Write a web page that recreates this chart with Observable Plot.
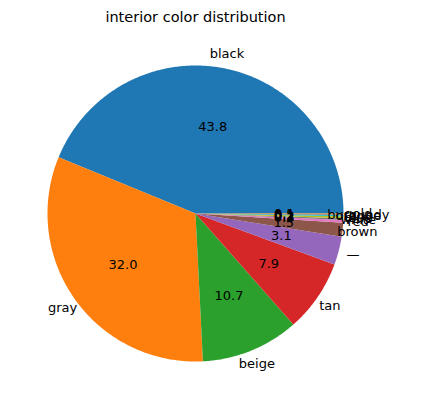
<!DOCTYPE html>
<html><head>
<script src="https://cdn.jsdelivr.net/npm/d3@7"></script>
<script src="https://cdn.jsdelivr.net/npm/@observablehq/plot@0.6"></script>
<style>body{margin:0;background:#fff}</style>
</head><body><div id="chart"></div>
<script>
const labels = ["black","gray","beige","tan","—","brown","red","white","blue","orange","burgundy","gold"];
const values = [43.8,32.0,10.7,7.9,3.1,1.5,0.3,0.2,0.2,0.1,0.1,0.1];
const colors = ["#1f77b4","#ff7f0e","#2ca02c","#d62728","#9467bd","#8c564b","#e377c2","#7f7f7f","#bcbd22","#17becf","#1f77b4","#ff7f0e"];

const total = d3.sum(values);
const slices = [];
let acc = 0;
values.forEach((v, i) => {
  const a0 = acc / total * 2 * Math.PI, a1 = (acc + v) / total * 2 * Math.PI;
  acc += v;
  slices.push({label: labels[i], value: v, color: colors[i], a0, a1, mid: (a0 + a1) / 2});
});
const pts = [];
slices.forEach((s, i) => {
  pts.push({i, x: 0, y: 0, c: s.color});
  const n = Math.max(2, Math.ceil((s.a1 - s.a0) / 0.01));
  for (let k = 0; k <= n; k++) {
    const a = s.a0 + (s.a1 - s.a0) * k / n;
    pts.push({i, x: Math.cos(a), y: Math.sin(a), c: s.color});
  }
  pts.push({i, x: 0, y: 0, c: s.color});
});

const R = 148, cx = 195, cy = 213, W = 434, H = 409;
const chart = Plot.plot({
  width: W, height: H, margin: 0,
  x: {domain: [-cx / R, (W - cx) / R], axis: null},
  y: {domain: [-(H - cy) / R, cy / R], axis: null},
  style: {fontFamily: "DejaVu Sans", fontSize: "13px", color: "#000"},
  marks: [
    Plot.line(pts, {x: "x", y: "y", z: "i", fill: "c", stroke: null, curve: "linear"}),
    Plot.text(slices, {x: d => 1.1 * Math.cos(d.mid), y: d => 1.1 * Math.sin(d.mid), text: "label",
      textAnchor: d => Math.cos(d.mid) >= 0 ? "start" : "end", fontSize: 13, fill: "#000"}),
    Plot.text(slices, {x: d => 0.6 * Math.cos(d.mid), y: d => 0.6 * Math.sin(d.mid), text: d => d.value.toFixed(1), fontSize: 13, fill: "#000"}),
    Plot.text(["interior color distribution"], {x: 0, y: (cy - 17) / R, text: d => d, fontSize: 14.5, fill: "#000"})
  ]
});
d3.select('#chart').append(() => chart);
</script>
</body></html>
